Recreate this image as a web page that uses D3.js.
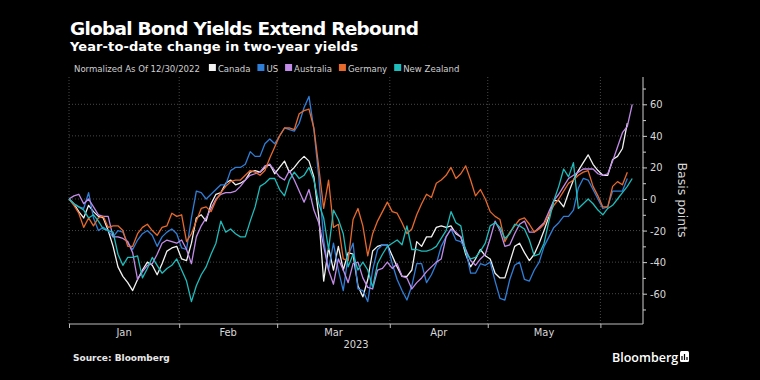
<!DOCTYPE html>
<html>
<head>
<meta charset="utf-8">
<script src="https://cdn.jsdelivr.net/npm/d3@7"></script>
<style>
  body { margin: 0; background: #000; }
  svg { display: block; }
</style>
</head>
<body>
<svg id="chart" width="760" height="380"></svg>
<script>
// ---------------------------------------------
// Data: YTD change in two-year yields (bp), one value per trading day from 12/30/2022
// ---------------------------------------------
const seriesNames = ["Canada", "US", "Australia", "Germany", "New Zealand"];
const seriesColors = ["#f2f2f2", "#2f7ed8", "#c28be8", "#e8692c", "#1fbcbc"];

const canada = [0, -3, -8, -12, -4, -8, -11, -12, -20, -30, -43, -49, -53, -58, -51, -45, -40, -42, -48, -41,
  -33, -31, -30, -38, -39, -28, -12, -10, -14, -3, 3, 4, 10, 12, 9, 10, 12, 17, 18, 17,
  20, 22, 16, 20, 24, 17, 20, 24, 27, 24, 14, -11, -52, -31, -45, -30, -45, -34, -35, -55,
  -62, -51, -33, -30, -29, -29, -36, -43, -49, -49, -45, -27, -30, -24, -24, -18, -17, -18, -17, -22,
  -24, -35, -43, -38, -32, -36, -38, -47, -50, -50, -40, -30, -28, -34, -39, -35, -28, -20, -11, -1,
  -1, -5, 4, 12, 18, 23, 28, 22, 18, 15, 15, 25, 27, 32, 48];

const us = [0, -3, -5, -6, 4, -12, -20, -18, -20, -24, -20, -21, -28, -32, -26, -22, -20, -23, -30, -24,
  -21, -19, -22, -31, -32, -12, 5, 4, 0, 3, 6, 9, 9, 18, 20, 20, 22, 30, 27, 27,
  35, 38, 35, 40, 45, 44, 43, 48, 58, 65, 44, 14, -26, -45, -28, -45, -58, -36, -28, -57,
  -58, -65, -45, -32, -29, -29, -41, -51, -58, -64, -55, -41, -41, -53, -48, -41, -30, -24, -19, -26,
  -27, -32, -47, -47, -41, -42, -40, -52, -63, -64, -51, -42, -40, -51, -52, -45, -40, -30, -24, -18,
  -15, -11, -11, -7, 7, 13, 12, 6, 0, -6, -5, 5, 5, 5, 13];

const australia = [0, 2, 3, -3, 0, -5, -10, -11, -11, -24, -24, -25, -27, -34, -51, -46, -42, -41, -35, -28,
  -26, -27, -28, -26, -32, -41, -24, -17, -12, -6, 0, 3, 4, 4, 5, 8, 12, 15, 16, 17,
  21, 22, 18, 14, 12, 18, 12, 5, -2, 6, -7, -15, -30, -45, -54, -38, -45, -53, -41, -40,
  -50, -56, -57, -45, -44, -40, -44, -41, -49, -50, -57, -53, -50, -46, -43, -40, -38, -24, -19, -21,
  -24, -32, -39, -42, -38, -35, -25, -14, -20, -30, -29, -22, -16, -14, -21, -21, -18, -15, -8, -1,
  3, 8, 13, 15, 17, 19, 19, 19, 16, 15, 16, 24, 33, 42, 46, 60];

const germany = [0, -4, -9, -18, -12, -17, -12, -11, -18, -17, -17, -20, -30, -30, -22, -18, -16, -20, -23, -18,
  -17, -9, -11, -10, -27, -22, -14, -6, -5, -8, -1, 4, 8, 11, 12, 12, 15, 18, 17, 15,
  18, 26, 33, 40, 45, 45, 44, 54, 56, 57, 45, 20, -6, 12, -18, -16, -38, -39, -13, -6,
  -17, -36, -22, -14, -8, -2, -8, -9, -15, -22, -19, -10, -3, 3, 1, 10, 12, 15, 20, 13,
  16, 21, 12, 2, 6, 0, -8, -11, -13, -27, -21, -17, -13, -12, -16, -21, -19, -16, -10, -4,
  0, 5, 10, 12, 15, 17, 18, 8, 2, -5, -5, 8, 11, 9, 17];

const newZealand = [0, -3, -5, -7, -12, -10, -14, -19, -20, -21, -35, -42, -37, -37, -36, -50, -44, -37, -42, -47,
  -44, -42, -38, -45, -52, -65, -55, -48, -43, -35, -28, -14, -21, -19, -22, -24, -24, -14, -5, 8,
  10, 13, 13, 6, 2, 12, 17, 13, 15, 20, 12, -3, -12, -32, -7, -13, -22, -43, -35, -45,
  -40, -45, -56, -41, -35, -30, -28, -26, -29, -17, -32, -32, -33, -33, -32, -30, -25, -20, -8, -15,
  -17, -34, -38, -37, -33, -28, -17, -15, -18, -25, -22, -16, -17, -19, -26, -36, -35, -28, -14, -1,
  8, 19, 14, 23, -6, -3, 0, -3, -7, -10, -6, -4, 0, 4, 8, 13];

const seriesValues = [canada, us, australia, germany, newZealand];

// month boundaries on the trading-day index, and the labels that sit between them
const monthBounds = [0, 22.5, 42.5, 65.5, 85.5, 108.5];
const monthLabels = ["Jan", "Feb", "Mar", "Apr", "May"];
const yearLabel = "2023";

const yMajorTicks = [-60, -40, -20, 0, 20, 40, 60];
const yMinorTicks = [-70, -50, -30, -10, 10, 30, 50, 70];

// ---------------------------------------------
// Drawing
// ---------------------------------------------
const svg = d3.select('#chart');
const condensed = '"DejaVu Sans Condensed", "DejaVu Sans", sans-serif';

svg.append('rect').attr('width', 760).attr('height', 380).attr('fill', '#000');

const plot = {left: 69, right: 643, top: 77, bottom: 324};

const x = d3.scaleLinear().domain([0, 117.2]).range([plot.left, plot.right]);
const y = d3.scaleLinear().domain([-79.2, 77.3]).range([plot.bottom, plot.top]);

// Titles
svg.append('text')
    .attr('x', 70).attr('y', 35)
    .attr('fill', '#fff')
    .attr('font-family', '"DejaVu Sans", sans-serif')
    .attr('font-weight', 'bold')
    .attr('font-size', 18.5)
    .attr('textLength', 349)
    .text('Global Bond Yields Extend Rebound');

svg.append('text')
    .attr('x', 70).attr('y', 51)
    .attr('fill', '#fff')
    .attr('font-family', '"DejaVu Sans", sans-serif')
    .attr('font-weight', 'bold')
    .attr('font-size', 13)
    .attr('textLength', 288)
    .text('Year-to-date change in two-year yields');

// Legend
const legend = svg.append('g')
    .attr('font-family', condensed)
    .attr('font-size', 9.5)
    .attr('fill', '#d0d0d0');

let legendX = 74;
let normText = legend.append('text')
    .attr('x', legendX).attr('y', 71.5)
    .text('Normalized As Of 12/30/2022');
legendX += normText.node().getComputedTextLength() + 9;

seriesNames.forEach((name, i) => {
  legend.append('rect')
      .attr('x', legendX).attr('y', 64)
      .attr('width', 7).attr('height', 7)
      .attr('fill', seriesColors[i]);
  let t = legend.append('text')
      .attr('x', legendX + 9).attr('y', 71.5)
      .text(name);
  legendX += 9 + t.node().getComputedTextLength() + 7;
});

// Grid lines
const grid = svg.append('g')
    .attr('stroke', '#5a5a5a')
    .attr('stroke-width', 0.8)
    .attr('stroke-dasharray', '1,2');

grid.selectAll('line.h').data(yMajorTicks)
    .join('line')
    .attr('class', 'h')
    .attr('x1', plot.left).attr('x2', plot.right)
    .attr('y1', (d) => y(d)).attr('y2', (d) => y(d));

grid.selectAll('line.v').data(monthBounds)
    .join('line')
    .attr('class', 'v')
    .attr('x1', (d) => x(d)).attr('x2', (d) => x(d))
    .attr('y1', plot.top).attr('y2', plot.bottom);

// Right axis
const yAxis = svg.append('g')
    .attr('transform', `translate(${plot.right},0)`)
    .call(d3.axisRight(y).tickValues(yMajorTicks).tickSize(4).tickPadding(3).tickFormat((d) => String(d)));
yAxis.select('.domain').remove();
yAxis.selectAll('line').attr('stroke', '#cfcfcf');
yAxis.selectAll('text')
    .attr('fill', '#d8d8d8')
    .attr('font-family', condensed)
    .attr('font-size', 11);

const yMinor = svg.append('g')
    .attr('transform', `translate(${plot.right},0)`)
    .call(d3.axisRight(y).tickValues(yMinorTicks).tickSize(3).tickFormat(''));
yMinor.select('.domain').remove();
yMinor.selectAll('line').attr('stroke', '#cfcfcf');

svg.append('line')
    .attr('x1', plot.right).attr('x2', plot.right)
    .attr('y1', plot.top).attr('y2', plot.bottom)
    .attr('stroke', '#cfcfcf');

svg.append('text')
    .attr('transform', `translate(678,200) rotate(90)`)
    .attr('text-anchor', 'middle')
    .attr('fill', '#d8d8d8')
    .attr('font-family', '"DejaVu Sans", sans-serif')
    .attr('font-size', 12.5)
    .text('Basis points');

// Bottom axis
const xAxis = svg.append('g')
    .attr('transform', `translate(0,${plot.bottom})`)
    .call(d3.axisBottom(x).tickValues(monthBounds).tickSize(4).tickFormat(''));
xAxis.select('.domain').attr('stroke', '#bdbdbd').attr('d', `M${plot.left},0H${plot.right}`);
xAxis.selectAll('line').attr('stroke', '#bdbdbd');

svg.append('g').selectAll('text').data(monthLabels)
    .join('text')
    .attr('x', (d, i) => x((monthBounds[i] + monthBounds[i + 1]) / 2))
    .attr('y', 336)
    .attr('text-anchor', 'middle')
    .attr('fill', '#d8d8d8')
    .attr('font-family', condensed)
    .attr('font-size', 11)
    .text((d) => d);

// year label sits a little right of the month-span centre, as in the source
svg.append('text')
    .attr('x', 356)
    .attr('y', 348)
    .attr('text-anchor', 'middle')
    .attr('fill', '#d8d8d8')
    .attr('font-family', condensed)
    .attr('font-size', 11)
    .text(yearLabel);

// Lines
const line = d3.line()
    .x((d, i) => x(i))
    .y((d) => y(d));

svg.append('g').selectAll('path').data(seriesValues)
    .join('path')
    .attr('fill', 'none')
    .attr('stroke', (d, i) => seriesColors[i])
    .attr('stroke-width', 1.3)
    .attr('stroke-linejoin', 'round')
    .attr('d', line);

// Footer
svg.append('text')
    .attr('x', 73).attr('y', 361)
    .attr('fill', '#e8e8e8')
    .attr('font-family', '"DejaVu Sans", sans-serif')
    .attr('font-weight', 'bold')
    .attr('font-size', 9)
    .text('Source: Bloomberg');

svg.append('text')
    .attr('x', 612).attr('y', 362)
    .attr('fill', '#fff')
    .attr('font-family', '"Open Sans", sans-serif')
    .attr('font-weight', 600)
    .attr('font-size', 12.5)
    .text('Bloomberg');

svg.append('rect')
    .attr('x', 680).attr('y', 351)
    .attr('width', 9).attr('height', 11)
    .attr('rx', 1.5)
    .attr('fill', '#fff');
svg.append('path')
    .attr('d', 'M682,360V356M684.5,360V354M687,360V357')
    .attr('stroke', '#000')
    .attr('stroke-width', 1.2);
</script>
</body>
</html>
